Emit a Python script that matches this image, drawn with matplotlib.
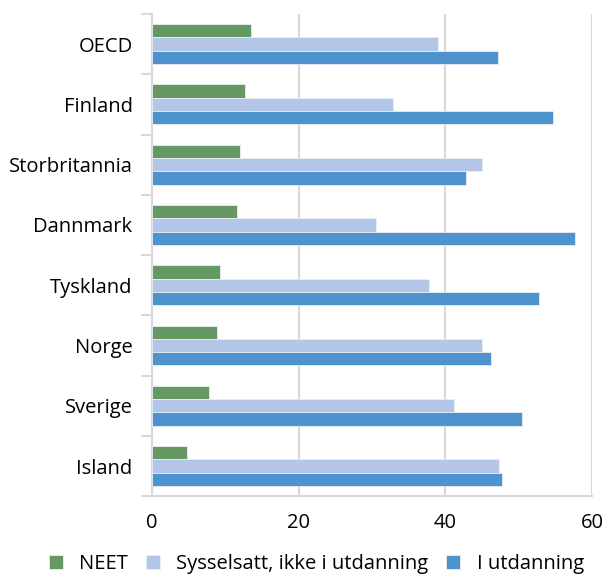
import matplotlib
matplotlib.use("Agg")
import matplotlib.pyplot as plt
import numpy as np

categories = ["OECD", "Finland", "Storbritannia", "Dannmark", "Tyskland", "Norge", "Sverige", "Island"]
neet = [13.5, 12.7, 12.0, 11.6, 9.3, 8.9, 7.8, 4.8]
sysselsatt = [39.0, 32.9, 45.0, 30.6, 37.8, 45.0, 41.2, 47.3]
utdanning = [47.2, 54.6, 42.8, 57.6, 52.7, 46.2, 50.5, 47.7]
series_names = ["NEET", "Sysselsatt, ikke i utdanning", "I utdanning"]
xticks = [0, 20, 40, 60]

colors = ["#659862", "#B4C6E7", "#4F93CE"]
plt.rcParams['font.family'] = ['Open Sans', 'DejaVu Sans']
FS = 14.5

fig = plt.figure(figsize=(6.08, 5.81), dpi=100)
ax = fig.add_axes([0.25, 0.146, 0.724, 0.830])

n = len(categories)
pos = np.arange(n)
h = 0.22
for i, (vals, name) in enumerate(zip([neet, sysselsatt, utdanning], series_names)):
    ax.barh(pos + (i - 1) * h, vals, height=h, color=colors[i], label=name,
            edgecolor="#E8EEF6", linewidth=0.6, zorder=3)

ax.set_ylim(n - 0.5, -0.5)
ax.set_xlim(0, 60)
ax.set_xticks(xticks)
ax.set_xticklabels([str(t) for t in xticks], fontsize=FS)
ax.set_yticks(pos)
ax.set_yticklabels(categories, fontsize=FS)
ax.set_yticks(np.arange(-0.5, n, 1.0), minor=True)
ax.tick_params(axis="y", which="major", length=0, pad=14)
ax.tick_params(axis="y", which="minor", length=8, color="#D9D9D9", width=1.5)
ax.tick_params(axis="x", length=0, pad=12)

ax.grid(axis="x", color="#D9D9D9", linewidth=1.5, zorder=0)
for s in ["top", "right"]:
    ax.spines[s].set_visible(False)
for s in ["left", "bottom"]:
    ax.spines[s].set_color("#D9D9D9")
    ax.spines[s].set_linewidth(1.5)

handles, labels = ax.get_legend_handles_labels()
fig.legend(handles, labels, loc="lower center", bbox_to_anchor=(0.52, -0.02), ncol=3,
           frameon=False, fontsize=FS, handlelength=0.7, handleheight=0.7,
           columnspacing=0.9, handletextpad=0.8)

fig.savefig("out.png", dpi=100)
